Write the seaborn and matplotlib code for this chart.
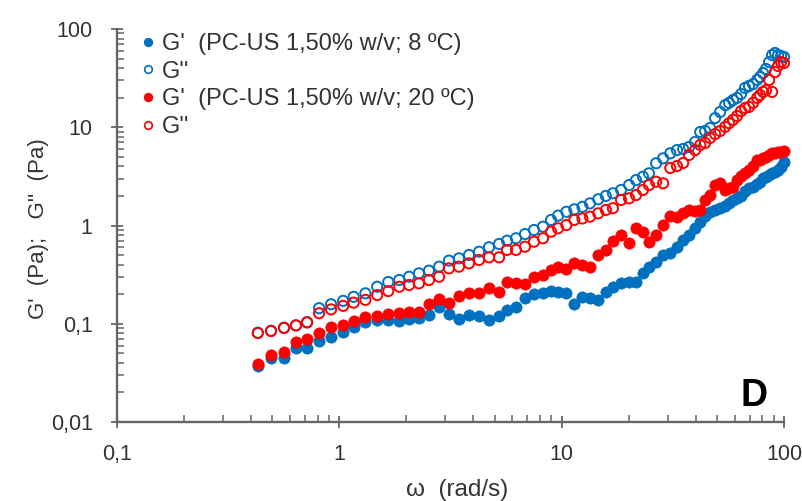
import matplotlib
matplotlib.use("Agg")
import matplotlib.pyplot as plt
from matplotlib.lines import Line2D
from matplotlib.ticker import FixedLocator, FixedFormatter, LogLocator, NullFormatter
import seaborn as sns

# Angular frequency (rad/s)
omega = [0.430, 0.493, 0.564, 0.638, 0.716, 0.811, 0.918, 1.04, 1.16, 1.31,
         1.48, 1.66, 1.86, 2.06, 2.28, 2.53, 2.81, 3.11, 3.45, 3.83,
         4.25, 4.71, 5.23, 5.68, 6.23, 6.84, 7.51, 8.24, 8.96, 9.63,
         10.5, 11.4, 12.4, 13.4, 14.6, 15.8, 17.0, 18.5, 20.1, 21.6,
         23.2, 24.7, 26.6, 28.6, 30.8, 33.0, 35.2, 37.4, 39.8, 42.0,
         44.2, 46.5, 49.0, 51.6, 54.4, 56.6, 59.0, 61.5, 64.1, 66.8,
         69.6, 72.6, 75.7, 78.0, 80.5, 83.0, 85.7, 88.4, 91.2, 94.0,
         97.0, 100.0]

# Storage modulus G' at 8 ºC (Pa)
g_storage_8 = [0.0372, 0.0445, 0.0445, 0.0562, 0.0562, 0.0667, 0.0738, 0.0830, 0.0933, 0.105,
               0.109, 0.109, 0.107, 0.111, 0.114, 0.123, 0.147, 0.126, 0.111, 0.123,
               0.120, 0.109, 0.121, 0.138, 0.149, 0.182, 0.201, 0.207, 0.213, 0.212,
               0.207, 0.159, 0.188, 0.182, 0.175, 0.212, 0.238, 0.258, 0.268, 0.268,
               0.326, 0.381, 0.428, 0.501, 0.521, 0.608, 0.711, 0.800, 0.944, 1.09,
               1.25, 1.37, 1.44, 1.51, 1.58, 1.69, 1.82, 1.91, 2.00, 2.24,
               2.41, 2.47, 2.64, 2.77, 3.04, 3.12, 3.27, 3.42, 3.51, 3.67,
               3.94, 4.43]

# Loss modulus G'' at 8 ºC (Pa)
g_loss_8 = [0.0811, 0.0849, 0.0912, 0.0964, 0.104, 0.144, 0.158, 0.171, 0.188, 0.204,
            0.238, 0.266, 0.279, 0.301, 0.326, 0.347, 0.381, 0.439, 0.463, 0.501,
            0.541, 0.600, 0.649, 0.700, 0.741, 0.818, 0.900, 0.973, 1.14, 1.26,
            1.38, 1.46, 1.55, 1.68, 1.85, 2.00, 2.13, 2.30, 2.58, 2.90,
            3.14, 3.40, 4.30, 4.83, 5.43, 5.86, 6.01, 6.30, 7.08, 8.95,
            9.16, 9.82, 12.4, 14.3, 16.8, 17.7, 18.9, 19.9, 21.8, 25.1,
            26.3, 27.5, 30.3, 32.4, 35.6, 39.2, 46.1, 54.3, 57.0, 54.3,
            53.1, 51.9]

# Storage modulus G' at 20 ºC (Pa)
g_storage_20 = [0.0386, 0.0481, 0.0512, 0.0647, 0.0700, 0.0800, 0.0933, 0.0971, 0.107, 0.118,
                0.121, 0.126, 0.128, 0.133, 0.133, 0.159, 0.177, 0.164, 0.192, 0.204,
                0.207, 0.230, 0.212, 0.268, 0.258, 0.252, 0.297, 0.313, 0.352, 0.378,
                0.358, 0.412, 0.396, 0.376, 0.501, 0.564, 0.700, 0.800, 0.668, 0.937,
                0.865, 0.684, 0.800, 1.01, 1.25, 1.23, 1.34, 1.44, 1.41, 1.44,
                1.82, 2.04, 2.58, 2.71, 2.30, 2.41, 2.47, 2.90, 3.19, 3.42,
                3.67, 4.03, 4.64, 4.64, 4.83, 4.98, 5.22, 5.43, 5.43, 5.60,
                5.60, 5.73]

# Loss modulus G'' at 20 ºC (Pa)
g_loss_20 = [0.0805, 0.0843, 0.0906, 0.0960, 0.103, 0.128, 0.140, 0.152, 0.164, 0.175,
             0.196, 0.215, 0.238, 0.248, 0.258, 0.279, 0.301, 0.366, 0.381, 0.412,
             0.446, 0.474, 0.474, 0.564, 0.564, 0.608, 0.684, 0.741, 0.865, 0.937,
             1.01, 1.14, 1.18, 1.23, 1.33, 1.44, 1.50, 1.82, 1.89, 2.04,
             2.30, 2.58, 2.79, 2.69, 3.85, 4.03, 4.33, 5.22, 5.86, 6.60,
             6.92, 7.78, 8.53, 9.16, 10.1, 11.0, 11.9, 13.0, 14.6, 15.7,
             16.1, 17.7, 19.9, 21.3, 22.9, 23.9, 30.3, 22.9, 36.5, 42.0,
             46.1, 45.1]

series_labels = ["G'  (PC-US 1,50% w/v; 8 ºC)", "G''",
                 "G'  (PC-US 1,50% w/v; 20 ºC)", "G''"]

x_ticks = [0.1, 1, 10, 100]
x_tick_labels = ["0,1", "1", "10", "100"]
y_ticks = [0.01, 0.1, 1, 10, 100]
y_tick_labels = ["0,01", "0,1", "1", "10", "100"]

BLUE = "#0070C0"
RED = "#FF0000"
AXIS = "#666666"
TEXT = "#333333"

sns.set_theme(style="ticks")
plt.rcParams["font.family"] = ["Liberation Sans", "DejaVu Sans"]

fig = plt.figure(figsize=(8.03, 5.01), dpi=100)
W, H = 803, 501
ax = fig.add_axes([117 / W, 1 - 422 / H, (784 - 117) / W, (422 - 29) / H])

series = [
    (g_storage_8, BLUE, True),
    (g_loss_8, BLUE, False),
    (g_storage_20, RED, True),
    (g_loss_20, RED, False),
]
for values, col, filled in series:
    if filled:
        sns.scatterplot(x=omega, y=values, ax=ax, marker="o", s=66,
                        facecolor=col, edgecolor=col, linewidth=0.5,
                        clip_on=False, zorder=3)
    else:
        sns.scatterplot(x=omega, y=values, ax=ax, marker="o", s=54,
                        facecolor="none", edgecolor=col, linewidth=1.4,
                        clip_on=False, zorder=3)

ax.set_xscale("log")
ax.set_yscale("log")
ax.set_xlim(0.1, 100)
ax.set_ylim(0.01, 100)

ax.xaxis.set_major_locator(FixedLocator(x_ticks))
ax.xaxis.set_major_formatter(FixedFormatter(x_tick_labels))
ax.yaxis.set_major_locator(FixedLocator(y_ticks))
ax.yaxis.set_major_formatter(FixedFormatter(y_tick_labels))
for axis in (ax.xaxis, ax.yaxis):
    axis.set_minor_locator(LogLocator(base=10, subs=range(2, 10), numticks=20))
    axis.set_minor_formatter(NullFormatter())

sns.despine(ax=ax)
for side in ("left", "bottom"):
    ax.spines[side].set_color(AXIS)
    ax.spines[side].set_linewidth(1.7)

ax.tick_params(which="major", direction="inout", length=9, width=1.3,
               color=AXIS, labelsize=15.5, labelcolor=TEXT, bottom=True, left=True)
ax.tick_params(axis="y", which="major", pad=13)
ax.tick_params(axis="x", which="major", pad=11)
ax.tick_params(which="minor", direction="in", length=5, width=1.1,
               color=AXIS, bottom=True, left=True)

ax.set_xlabel("ω  (rad/s)", fontsize=17.5, color=TEXT)
ax.xaxis.set_label_coords((457 - 117) / 667, (422 - 479) / 393)
ax.set_ylabel("G'  (Pa);   G''  (Pa)", fontsize=16, color=TEXT)
ax.yaxis.set_label_coords((49 - 117) / 667, (422 - 229) / 393)

handles = []
for (values, col, filled), lab in zip(series, series_labels):
    handles.append(Line2D([], [], linestyle="none", marker="o", markersize=5.5,
                          markerfacecolor=col if filled else "white",
                          markeredgecolor=col, markeredgewidth=1.2, label=lab))
leg = ax.legend(handles=handles, loc="upper left",
                bbox_to_anchor=(141 / W, 1 - 33 / H), bbox_transform=fig.transFigure,
                frameon=False, fontsize=17, handlelength=0.6, handletextpad=0.3,
                labelspacing=0.24, borderpad=0, borderaxespad=0)
for t in leg.get_texts():
    t.set_color(TEXT)

fig.text(754 / W, 1 - 396 / H, "D", fontsize=27, fontweight="bold",
         ha="center", va="center", color="black")

fig.savefig("out.png", dpi=100)
